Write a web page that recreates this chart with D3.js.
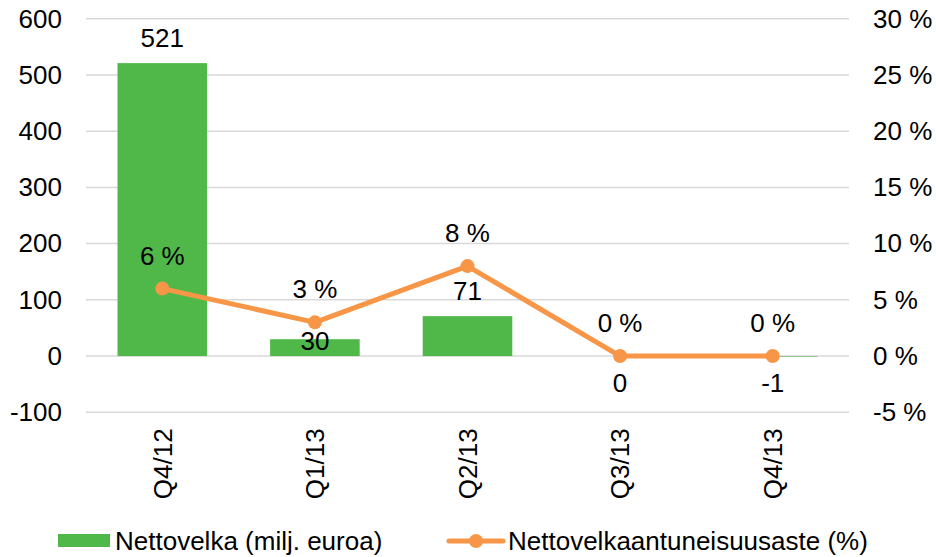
<!DOCTYPE html>
<html>
<head>
<meta charset="utf-8">
<script src="https://cdn.jsdelivr.net/npm/d3@7"></script>
<style>
  body { margin: 0; background: #fff; }
  svg { font-family: "Liberation Sans", Arial, sans-serif; }
</style>
</head>
<body>
<svg class="canvas" width="936" height="557"></svg>
<script>
// chart data
const quarters = ["Q4/12", "Q1/13", "Q2/13", "Q3/13", "Q4/13"];
const netDebt = [521, 30, 71, 0, -1];
const gearing = [6, 3, 8, 0, 0];
const leftTicks = [-100, 0, 100, 200, 300, 400, 500, 600];
const rightTicks = [-5, 0, 5, 10, 15, 20, 25, 30];
const seriesNames = ["Nettovelka (milj. euroa)", "Nettovelkaantuneisuusaste (%)"];

const svg = d3.select(".canvas");
const fontSize = 26;
const green = "#50b848";
const orange = "#f79646";

const plotLeft = 86;
const plotRight = 849;
const plotTop = 18.7;
const plotBottom = 412.3;

// scales
const xScale = d3
  .scaleBand()
  .domain(quarters)
  .range([plotLeft, plotRight])
  .paddingInner(0.413)
  .paddingOuter(0.2065);
const yLeft = d3.scaleLinear().domain([-100, 600]).range([plotBottom, plotTop]);
const yRight = d3.scaleLinear().domain([-5, 30]).range([plotBottom, plotTop]);
const cx = (q) => xScale(q) + xScale.bandwidth() / 2;

// gridlines
svg
  .append("g")
  .selectAll("line")
  .data(leftTicks)
  .enter()
  .append("line")
  .attr("x1", plotLeft)
  .attr("x2", plotRight)
  .attr("y1", (d) => yLeft(d))
  .attr("y2", (d) => yLeft(d))
  .attr("stroke", "#d9d9d9")
  .attr("stroke-width", 1.5);

// axes (plain hyphen for negatives, like the original)
const leftAxis = d3
  .axisLeft(yLeft)
  .tickValues(leftTicks)
  .tickSize(0)
  .tickPadding(24)
  .tickFormat((d) => String(d));
const gLeft = svg.append("g").attr("transform", `translate(${plotLeft},0)`).call(leftAxis);
const rightAxis = d3
  .axisRight(yRight)
  .tickValues(rightTicks)
  .tickSize(0)
  .tickPadding(24)
  .tickFormat((d) => String(d) + " %");
const gRight = svg.append("g").attr("transform", `translate(${plotRight},0)`).call(rightAxis);
[gLeft, gRight].forEach((g) => {
  g.select(".domain").remove();
  g.selectAll("text")
    .style("font-size", fontSize + "px")
    .style("font-family", "Liberation Sans, Arial, sans-serif")
    .attr("fill", "#000");
});

// category labels (rotated)
svg
  .append("g")
  .selectAll("text")
  .data(quarters)
  .enter()
  .append("text")
  .attr("transform", (d) => `translate(${cx(d)}, ${plotBottom + 16}) rotate(-90)`)
  .attr("text-anchor", "end")
  .attr("dy", "0.36em")
  .style("font-size", fontSize + "px")
  .text((d) => d);

// bars
svg
  .append("g")
  .selectAll("rect")
  .data(quarters)
  .enter()
  .append("rect")
  .attr("x", (d) => xScale(d))
  .attr("width", xScale.bandwidth())
  .attr("y", (d, i) => Math.min(yLeft(netDebt[i]), yLeft(0)))
  .attr("height", (d, i) => Math.abs(yLeft(netDebt[i]) - yLeft(0)))
  .attr("fill", green);

// line + markers
const line = d3
  .line()
  .x((d, i) => cx(quarters[i]))
  .y((d) => yRight(d));
svg
  .append("path")
  .datum(gearing)
  .attr("d", line)
  .attr("fill", "none")
  .attr("stroke", orange)
  .attr("stroke-width", 5)
  .attr("stroke-linejoin", "round");
svg
  .append("g")
  .selectAll("circle")
  .data(gearing)
  .enter()
  .append("circle")
  .attr("cx", (d, i) => cx(quarters[i]))
  .attr("cy", (d) => yRight(d))
  .attr("r", 7)
  .attr("fill", orange);

// line labels
svg
  .append("g")
  .selectAll("text")
  .data(gearing)
  .enter()
  .append("text")
  .attr("x", (d, i) => cx(quarters[i]))
  .attr("y", (d) => yRight(d) - 24)
  .attr("text-anchor", "middle")
  .style("font-size", fontSize + "px")
  .text((d) => d + " %");

// bar labels: above bar, below zero for non-positive, pushed down if hitting the line marker
svg
  .append("g")
  .selectAll("text")
  .data(netDebt)
  .enter()
  .append("text")
  .attr("x", (d, i) => cx(quarters[i]))
  .attr("y", (d, i) => {
    if (d <= 0) return yLeft(0) + 36;
    let y = yLeft(d) - 16;
    const py = yRight(gearing[i]);
    if (Math.abs(y - 9 - py) < 22) y = py + 28;
    return y;
  })
  .attr("text-anchor", "middle")
  .style("font-size", fontSize + "px")
  .text((d) => d);

// legend
const legend = svg.append("g").attr("transform", "translate(0, 541)");
legend.append("rect").attr("x", 58).attr("y", -7).attr("width", 52).attr("height", 13).attr("fill", green);
legend
  .append("text")
  .attr("x", 115)
  .attr("dy", "0.36em")
  .style("font-size", fontSize + "px")
  .text(seriesNames[0]);
legend
  .append("line")
  .attr("x1", 449)
  .attr("x2", 503)
  .attr("stroke", orange)
  .attr("stroke-width", 5)
  .attr("stroke-linecap", "round");
legend.append("circle").attr("cx", 476).attr("r", 7).attr("fill", orange);
legend
  .append("text")
  .attr("x", 508)
  .attr("dy", "0.36em")
  .style("font-size", fontSize + "px")
  .text(seriesNames[1]);
</script>
</body>
</html>
